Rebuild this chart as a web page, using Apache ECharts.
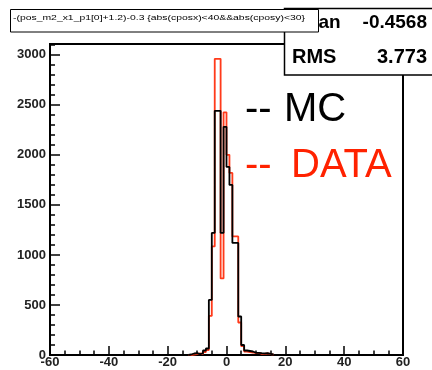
<!DOCTYPE html>
<html>
<head>
<meta charset="utf-8">
<script src="https://cdn.jsdelivr.net/npm/echarts@6/dist/echarts.min.js"></script>
<style>
  html, body { margin: 0; padding: 0; background: #fff; }
  #chart { width: 432px; height: 370px; }
</style>
</head>
<body>
<div id="chart"></div>
<script>
// Histogram binning: unit-width bins starting at binStart
const binStart = -13;
const binWidth = 1;

// Bin contents, bins [-13,-12) ... [15,16)
const mcCounts = [5, 15, 18, 8, 15, 45, 65, 550, 1220, 2440, 2440, 1220, 2280,
                  1880, 1700, 1120, 1120, 385, 100, 45, 40, 35, 22, 22, 18, 15, 18, 12, 5];
const dataCounts = [0, 5, 8, 15, 10, 30, 50, 390, 1085, 2960, 2960, 765, 2425,
                    2000, 1820, 1185, 1185, 325, 88, 35, 30, 25, 18, 20, 12, 10, 15, 8, 3];

// Axis ticks
const xTickLabels = [-60, -40, -20, 0, 20, 40, 60];
const yMajorTicks = [0, 500, 1000, 1500, 2000, 2500, 3000];
const yMinorTicks = [100, 200, 300, 400, 600, 700, 800, 900, 1100, 1200, 1300, 1400,
                     1600, 1700, 1800, 1900, 2100, 2200, 2300, 2400, 2600, 2700, 2800, 2900, 3100];
const yMax = 3108;

// Stats box and title
const titleText = '-(pos_m2_x1_p1[0]+1.2)-0.3 {abs(cposx)<40&&abs(cposy)<30}';
const statsRows = [['Mean', '-0.4568'], ['RMS', '3.773']];
const legendRows = [['MC', '#000000'], ['DATA', '#ff2200']];

// Outline of a histogram as step points
function stepOutline(counts) {
  const pts = [[binStart, 0]];
  counts.forEach((c, i) => pts.push([binStart + i * binWidth, c]));
  const end = binStart + counts.length * binWidth;
  pts.push([end, counts[counts.length - 1]]);
  pts.push([end, 0]);
  return pts;
}

// Fit the small title text into its box width
function textScale(text, font, targetWidth) {
  const ctx = document.createElement('canvas').getContext('2d');
  ctx.font = font;
  return targetWidth / ctx.measureText(text).width;
}

const titleFont = '8px "Liberation Sans"';
const titleScale = textScale(titleText, titleFont, 292);

const chart = echarts.init(document.getElementById('chart'), null, { renderer: 'canvas' });

const labelFont = { fontFamily: 'Liberation Sans', fontWeight: 'bold', fontSize: 13, color: '#222' };
const plain = v => String(v);
const legendFont = '40px "Liberation Sans"';

chart.setOption({
  animation: false,
  backgroundColor: '#fff',
  grid: { left: 50, right: 29, top: 44, bottom: 15, show: true, borderColor: '#000', borderWidth: 2, backgroundColor: 'transparent' },
  xAxis: {
    type: 'value', min: -60, max: 60, interval: 20,
    axisLine: { onZero: false, lineStyle: { color: '#000', width: 2 } },
    axisTick: { inside: true, length: 9, lineStyle: { color: '#000', width: 1.5 } },
    minorTick: { show: true, splitNumber: 4, length: 4.5, lineStyle: { color: '#000', width: 1.5 } },
    splitLine: { show: false },
    axisLabel: Object.assign({ margin: 1, customValues: xTickLabels, formatter: plain }, labelFont)
  },
  yAxis: [
    {
      type: 'value', min: 0, max: yMax,
      axisLine: { show: true, onZero: false, lineStyle: { color: '#000', width: 2 } },
      axisTick: { inside: true, length: 10, customValues: yMajorTicks, lineStyle: { color: '#000', width: 1.5 } },
      splitLine: { show: false },
      axisLabel: Object.assign({ margin: 4, customValues: yMajorTicks, formatter: plain }, labelFont)
    },
    {
      type: 'value', min: 0, max: yMax, position: 'left',
      axisLine: { show: false, onZero: false },
      axisTick: { show: true, inside: true, length: 5, customValues: yMinorTicks, lineStyle: { color: '#000', width: 1.5 } },
      splitLine: { show: false },
      axisLabel: { show: false }
    }
  ],
  series: [
    {
      name: 'DATA', type: 'line', step: 'end', yAxisIndex: 0,
      data: stepOutline(dataCounts), showSymbol: false, silent: true,
      lineStyle: { color: '#ff3a1a', width: 1.8 }
    },
    {
      name: 'MC', type: 'line', step: 'end', yAxisIndex: 0,
      data: stepOutline(mcCounts), showSymbol: false, silent: true,
      lineStyle: { color: '#000', width: 1.8 }
    }
  ],
  graphic: [
    // statistics box
    { type: 'rect', z: 100, shape: { x: 284.5, y: 8.5, width: 160, height: 66.5 },
      style: { fill: '#fff', stroke: '#000', lineWidth: 1.5 } },
    ...statsRows.flatMap((row, i) => [
      { type: 'text', z: 101, x: 292, y: i === 0 ? 23 : 57.5,
        style: { text: row[0], font: 'bold ' + (i === 0 ? 19 : 20) + 'px "Liberation Sans"', fill: '#000', verticalAlign: 'middle' } },
      { type: 'text', z: 101, x: 427, y: i === 0 ? 23 : 57.5,
        style: { text: row[1], font: 'bold ' + (i === 0 ? 19 : 20) + 'px "Liberation Sans"', fill: '#000', align: 'right', verticalAlign: 'middle' } }
    ]),
    // title box
    { type: 'rect', z: 102, shape: { x: 10.5, y: 9.5, width: 308, height: 22.5 },
      style: { fill: '#fff', stroke: '#000', lineWidth: 1 } },
    { type: 'text', z: 103, x: 13, y: 17.5, scaleX: titleScale,
      style: { text: titleText, font: titleFont, fill: '#000', verticalAlign: 'middle' } },
    // legend: dash marker followed by the sample name
    ...legendRows.flatMap((row, i) => [
      { type: 'text', z: 104, x: 245, y: i === 0 ? 110 : 166,
        style: { text: '--', font: legendFont, fill: row[1], verticalAlign: 'middle' } },
      { type: 'text', z: 104, x: i === 0 ? 284 : 291, y: i === 0 ? 110 : 166,
        style: { text: row[0], font: legendFont, fill: row[1], verticalAlign: 'middle' } }
    ])
  ]
});
</script>
</body>
</html>
